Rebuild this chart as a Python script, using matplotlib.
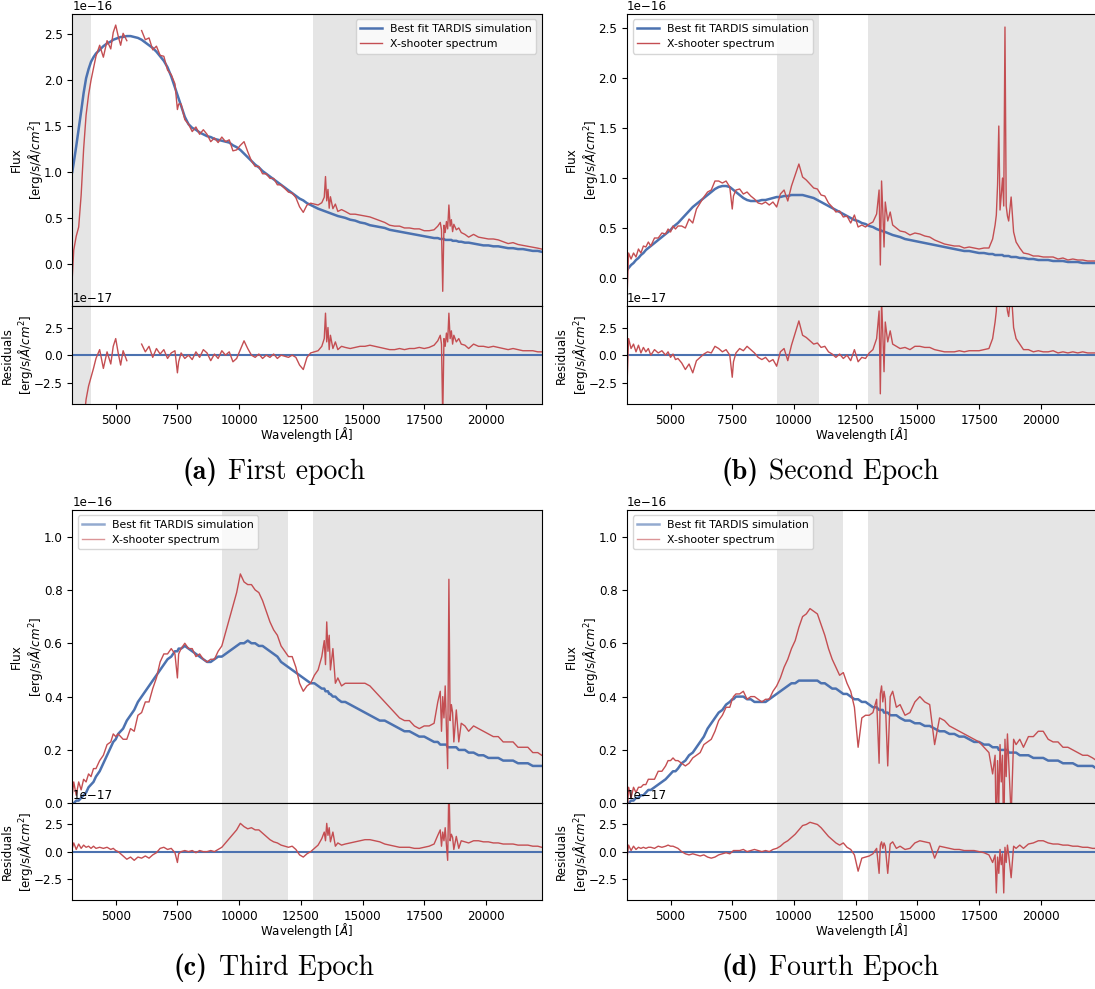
import numpy as np
import matplotlib.pyplot as plt
from matplotlib.offsetbox import TextArea, HPacker, AnnotationBbox

plt.rcParams["font.size"] = 8.6

BLUE = "#4c72b0"
RED = "#c44e52"

# common wavelength grid [Angstrom]
wavelength = [
    3240, 3300, 3400, 3500, 3600, 3700, 3800, 3900, 4000, 4100,
    4200, 4350, 4500, 4650, 4800, 4900, 5000, 5100, 5200, 5300,
    5450, 5600, 5750, 5900, 6050, 6200, 6350, 6500, 6650, 6800,
    6950, 7100, 7250, 7400, 7500, 7550, 7650, 7800, 7950, 8100,
    8250, 8400, 8550, 8700, 8850, 9000, 9150, 9300, 9450, 9600,
    9750, 9900, 10050, 10200, 10350, 10500, 10650, 10800, 10950, 11100,
    11250, 11400, 11550, 11700, 11850, 12000, 12150, 12300, 12450, 12600,
    12750, 12900, 13050, 13200, 13350, 13450, 13500, 13550, 13600, 13650,
    13700, 13800, 13900, 14000, 14150, 14300, 14500, 14700, 14900, 15100,
    15300, 15500, 15700, 15900, 16100, 16300, 16500, 16700, 16900, 17100,
    17300, 17500, 17700, 17900, 18050, 18150, 18200, 18250, 18300, 18350,
    18400, 18450, 18500, 18550, 18600, 18650, 18700, 18800, 18900, 19000,
    19150, 19300, 19500, 19700, 19900, 20100, 20300, 20500, 20700, 20900,
    21100, 21300, 21500, 21700, 21900, 22100, 22260,
]

# TARDIS best-fit flux [1e-16 erg/s/A/cm^2] and residuals obs - model [1e-17]
model_a = [
    1.00, 1.10, 1.28, 1.47, 1.66, 1.86, 2.02, 2.12, 2.20, 2.25,
    2.29, 2.33, 2.37, 2.40, 2.42, 2.44, 2.45, 2.46, 2.47, 2.47,
    2.48, 2.48, 2.47, 2.46, 2.44, 2.41, 2.38, 2.35, 2.31, 2.26,
    2.21, 2.14, 2.04, 1.92, 1.84, 1.80, 1.72, 1.60, 1.52, 1.48,
    1.46, 1.43, 1.41, 1.39, 1.38, 1.36, 1.35, 1.34, 1.33, 1.32,
    1.29, 1.27, 1.24, 1.20, 1.16, 1.12, 1.08, 1.05, 1.01, 0.98,
    0.95, 0.92, 0.89, 0.86, 0.83, 0.80, 0.77, 0.74, 0.71, 0.69,
    0.66, 0.64, 0.62, 0.60, 0.585, 0.575, 0.57, 0.565, 0.56, 0.555,
    0.55, 0.54, 0.53, 0.52, 0.51, 0.50, 0.48, 0.47, 0.45, 0.44,
    0.42, 0.41, 0.40, 0.39, 0.37, 0.36, 0.35, 0.34, 0.33, 0.32,
    0.31, 0.30, 0.29, 0.28, 0.28, 0.27, 0.27, 0.27, 0.27, 0.26,
    0.26, 0.26, 0.26, 0.26, 0.26, 0.25, 0.25, 0.25, 0.24, 0.24,
    0.23, 0.23, 0.22, 0.21, 0.20, 0.20, 0.19, 0.19, 0.18, 0.17,
    0.17, 0.16, 0.16, 0.15, 0.14, 0.14, 0.13,
]
resid_a = [
    -11.5, -9.5, -9.8, -10.7, -9.1, -6.1, -4.0, -2.8, -2.0, -1.2,
    -0.3, 0.5, -1.2, 0.3, -0.8, 0.8, 1.5, 0.2, -0.9, 0.4,
    -0.5, np.nan, np.nan, np.nan, 1.0, 0.3, 0.8, -0.2, 0.6, 0.1,
    0.5, -0.3, 0.2, 0.4, -1.6, -0.6, 0.2, -0.3, 0.0, -0.4,
    0.3, -0.2, 0.5, 0.2, -0.5, 0.1, -0.3, 0.4, 0.0, 0.3,
    -0.6, -0.3, 0.5, 1.3, 0.6, 0.0, -0.2, 0.1, -0.3, 0.0,
    -0.2, 0.1, -0.3, 0.0, -0.1, -0.2, 0.0, -0.2, -0.9, -1.3,
    -0.2, 0.2, 0.3, 0.4, 0.8, 1.5, 3.8, 1.2, 2.5, 0.5,
    1.8, 0.6, 1.2, 0.5, 0.8, 0.7, 0.6, 0.7, 0.8, 0.8,
    0.9, 0.8, 0.7, 0.6, 0.5, 0.5, 0.6, 0.5, 0.6, 0.6,
    0.7, 0.6, 0.7, 0.9, 1.3, 1.8, 1.0, -5.7, 1.5, 0.8,
    2.0, 1.2, 3.8, 1.5, 2.2, 1.0, 1.8, 1.2, 1.5, 1.0,
    0.9, 0.6, 1.0, 0.8, 0.8, 0.7, 0.8, 0.7, 0.6, 0.5,
    0.6, 0.5, 0.4, 0.4, 0.4, 0.3, 0.3,
]

model_b = [
    0.08, 0.10, 0.13, 0.15, 0.18, 0.20, 0.23, 0.25, 0.28, 0.30,
    0.32, 0.35, 0.38, 0.41, 0.44, 0.46, 0.48, 0.51, 0.53, 0.55,
    0.59, 0.63, 0.67, 0.71, 0.74, 0.77, 0.80, 0.83, 0.86, 0.89,
    0.91, 0.92, 0.92, 0.91, 0.89, 0.88, 0.86, 0.83, 0.80, 0.78,
    0.77, 0.77, 0.77, 0.78, 0.78, 0.79, 0.80, 0.81, 0.81, 0.82,
    0.82, 0.83, 0.83, 0.83, 0.83, 0.82, 0.81, 0.80, 0.78, 0.76,
    0.74, 0.72, 0.70, 0.68, 0.66, 0.64, 0.62, 0.60, 0.58, 0.57,
    0.55, 0.54, 0.52, 0.51, 0.49, 0.48, 0.48, 0.47, 0.47, 0.46,
    0.46, 0.45, 0.44, 0.43, 0.42, 0.41, 0.39, 0.38, 0.37, 0.36,
    0.35, 0.34, 0.33, 0.32, 0.31, 0.30, 0.29, 0.28, 0.27, 0.27,
    0.26, 0.25, 0.25, 0.24, 0.24, 0.23, 0.23, 0.23, 0.23, 0.23,
    0.23, 0.23, 0.22, 0.22, 0.22, 0.22, 0.22, 0.21, 0.21, 0.21,
    0.20, 0.20, 0.19, 0.19, 0.18, 0.18, 0.18, 0.17, 0.17, 0.17,
    0.16, 0.16, 0.16, 0.15, 0.15, 0.15, 0.15,
]
resid_b = [
    -2.5, 1.5, 0.6, 1.0, 0.3, 0.9, 0.2, 0.7, 0.3, 0.6,
    0.0, 0.5, 0.2, 0.4, 0.0, 0.3, -0.2, 0.1, -0.4, -0.3,
    -0.7, -1.3, -0.8, -1.6, -0.5, -0.2, 0.1, 0.3, 0.2, 0.8,
    0.6, 0.3, 0.5, 0.0, -2.0, -0.6, 0.2, 0.6, 0.4, 0.8,
    0.5, 0.2, -0.2, -0.4, -0.2, -0.6, -0.4, -1.0, 0.3, 0.6,
    -0.5, 0.9, 2.0, 3.1, 1.8, 1.6, 1.3, 1.0, 1.1, 0.7,
    0.8, 0.3, 0.1, -0.2, 0.1, -0.3, 0.0, -0.5, 0.5, -0.6,
    -0.2, -0.3, 0.2, 0.5, 1.5, 4.0, -3.5, 5.0, 2.0, -1.5,
    3.0, 1.2, 2.2, 1.0, 0.8, 0.6, 0.7, 0.5, 0.8, 0.8,
    0.7, 0.7, 0.5, 0.4, 0.3, 0.3, 0.3, 0.4, 0.3, 0.4,
    0.4, 0.4, 0.5, 0.6, 1.5, 3.0, 4.0, 7.0, 12.9, 4.5,
    6.0, 7.7, 5.0, 22.9, 5.0, 4.0, 3.5, 6.0, 2.5, 1.5,
    1.0, 0.5, 0.5, 0.3, 0.4, 0.3, 0.3, 0.4, 0.2, 0.3,
    0.2, 0.3, 0.2, 0.3, 0.2, 0.2, 0.2,
]

model_c = [
    0.00, 0.00, 0.01, 0.01, 0.02, 0.03, 0.04, 0.06, 0.07, 0.08,
    0.10, 0.12, 0.15, 0.18, 0.21, 0.23, 0.24, 0.26, 0.27, 0.28,
    0.31, 0.33, 0.35, 0.38, 0.40, 0.42, 0.44, 0.46, 0.48, 0.50,
    0.52, 0.54, 0.55, 0.57, 0.57, 0.58, 0.58, 0.59, 0.58, 0.57,
    0.56, 0.55, 0.54, 0.53, 0.53, 0.54, 0.55, 0.55, 0.56, 0.57,
    0.58, 0.59, 0.60, 0.60, 0.61, 0.60, 0.60, 0.59, 0.59, 0.58,
    0.57, 0.56, 0.55, 0.53, 0.52, 0.51, 0.50, 0.49, 0.48, 0.47,
    0.46, 0.45, 0.45, 0.44, 0.43, 0.43, 0.42, 0.42, 0.42, 0.41,
    0.41, 0.40, 0.40, 0.39, 0.38, 0.38, 0.37, 0.36, 0.35, 0.34,
    0.33, 0.32, 0.31, 0.31, 0.30, 0.29, 0.28, 0.27, 0.27, 0.26,
    0.25, 0.25, 0.24, 0.23, 0.23, 0.22, 0.22, 0.22, 0.22, 0.22,
    0.22, 0.21, 0.21, 0.21, 0.21, 0.21, 0.21, 0.21, 0.20, 0.20,
    0.20, 0.19, 0.19, 0.18, 0.18, 0.17, 0.17, 0.17, 0.16, 0.16,
    0.16, 0.15, 0.15, 0.15, 0.14, 0.14, 0.14,
]
resid_c = [
    0.3, 0.8, 0.2, 0.7, 0.3, 0.6, 0.4, 0.5, 0.3, 0.5,
    0.3, 0.4, 0.3, 0.4, 0.2, 0.3, 0.1, 0.0, -0.2, -0.4,
    -0.7, -0.5, -0.8, -0.5, -0.6, -0.4, -0.6, -0.3, -0.1, 0.3,
    0.4, 0.2, 0.3, -0.1, -1.0, -0.2, 0.0, 0.1, 0.0, 0.1,
    -0.1, 0.1, 0.0, 0.0, 0.1, 0.0, 0.2, 0.4, 0.8, 1.2,
    1.6, 2.0, 2.6, 2.3, 2.1, 2.2, 2.0, 2.0, 1.7, 1.4,
    1.1, 0.9, 0.8, 0.6, 0.5, 0.4, 0.5, 0.2, -0.3, -0.5,
    -0.2, 0.0, 0.3, 0.6, 1.2, 1.8, 1.0, 2.6, 1.5, 2.2,
    0.9, 1.8, 0.5, 0.8, 0.6, 0.7, 0.8, 0.9, 1.0, 1.1,
    1.1, 1.0, 0.9, 0.7, 0.6, 0.5, 0.4, 0.4, 0.4, 0.3,
    0.3, 0.4, 0.5, 0.7, 1.5, 2.0, 0.5, 1.8, 1.0, 2.2,
    0.6, -0.8, 6.3, 1.0, 1.6, 1.3, 0.2, 1.4, 0.3, 1.0,
    0.9, 0.8, 1.0, 1.0, 0.9, 0.9, 0.8, 0.8, 0.7, 0.7,
    0.7, 0.6, 0.6, 0.6, 0.5, 0.5, 0.4,
]

model_d = [
    0.00, 0.00, 0.01, 0.01, 0.02, 0.02, 0.03, 0.03, 0.04, 0.05,
    0.05, 0.06, 0.07, 0.08, 0.09, 0.10, 0.11, 0.12, 0.12, 0.13,
    0.15, 0.16, 0.18, 0.19, 0.21, 0.23, 0.25, 0.28, 0.30, 0.32,
    0.34, 0.35, 0.37, 0.38, 0.39, 0.39, 0.40, 0.40, 0.40, 0.39,
    0.39, 0.38, 0.38, 0.38, 0.38, 0.39, 0.40, 0.41, 0.42, 0.43,
    0.44, 0.45, 0.45, 0.46, 0.46, 0.46, 0.46, 0.46, 0.46, 0.45,
    0.45, 0.44, 0.43, 0.43, 0.42, 0.41, 0.41, 0.40, 0.39, 0.39,
    0.38, 0.38, 0.37, 0.36, 0.36, 0.35, 0.35, 0.35, 0.35, 0.34,
    0.34, 0.34, 0.33, 0.33, 0.33, 0.32, 0.31, 0.31, 0.30, 0.30,
    0.29, 0.29, 0.28, 0.27, 0.27, 0.26, 0.26, 0.25, 0.25, 0.24,
    0.23, 0.23, 0.22, 0.22, 0.21, 0.21, 0.21, 0.21, 0.20, 0.20,
    0.20, 0.20, 0.20, 0.20, 0.20, 0.20, 0.19, 0.19, 0.19, 0.19,
    0.18, 0.18, 0.18, 0.17, 0.17, 0.17, 0.16, 0.16, 0.16, 0.15,
    0.15, 0.15, 0.14, 0.14, 0.14, 0.14, 0.13,
]
resid_d = [
    -0.5, 0.6, 0.1, 0.5, 0.2, 0.4, 0.3, 0.4, 0.3, 0.4,
    0.4, 0.3, 0.5, 0.4, 0.5, 0.6, 0.5, 0.5, 0.4, 0.3,
    0.0, -0.2, -0.3, -0.2, -0.3, -0.4, -0.3, -0.5, -0.6, -0.5,
    -0.3, -0.2, -0.1, -0.2, 0.0, 0.1, 0.1, 0.1, 0.2, 0.0,
    0.1, 0.2, 0.1, 0.0, 0.1, 0.0, 0.2, 0.3, 0.5, 0.8,
    1.0, 1.3, 1.6, 2.0, 2.4, 2.5, 2.7, 2.6, 2.5, 2.2,
    1.8, 1.4, 1.1, 0.8, 0.6, 0.8, 0.4, 0.2, -0.3, -1.8,
    -0.6, -0.5, -0.4, -0.2, 0.3, -2.0, 0.6, 0.9, 0.3, 0.8,
    0.5, -2.0, 0.7, 0.9, 0.3, 0.5, 0.2, 0.3, 0.8, 1.0,
    0.9, 0.8, -0.6, 0.5, 0.4, 0.3, 0.2, 0.2, 0.1, 0.1,
    0.1, 0.0, -0.1, -0.3, -1.0, -0.3, -3.8, -0.5, -2.0, 0.2,
    -1.2, -0.2, -3.8, 0.4, -1.0, 0.6, -0.3, -2.4, 0.5, 0.3,
    0.6, 0.3, 0.7, 0.8, 1.0, 1.0, 0.8, 0.7, 0.7, 0.6,
    0.6, 0.5, 0.5, 0.4, 0.4, 0.3, 0.3,
]

captions = ["First epoch", "Second Epoch", "Third Epoch", "Fourth Epoch"]
letters = ["a", "b", "c", "d"]
models = [model_a, model_b, model_c, model_d]
resids = [resid_a, resid_b, resid_c, resid_d]
flux_ylims = [(-0.46, 2.72), (-0.28, 2.64), (0.0, 1.1), (0.0, 1.1)]
flux_yticks = [np.arange(0, 2.51, 0.5), np.arange(0, 2.51, 0.5),
               np.arange(0, 1.01, 0.2), np.arange(0, 1.01, 0.2)]
# masked wavelength ranges shown as grey bands
masked = [[(3240, 4000), (13000, 22260)],
          [(9300, 11000), (13000, 22260)],
          [(9300, 12000), (13000, 22260)],
          [(9300, 12000), (13000, 22260)]]
legend_locs = ["upper right", "upper left", "upper left", "upper left"]

wl = np.array(wavelength, dtype=float)
xlim = (3240, 22260)

fig = plt.figure(figsize=(10.95, 9.89), dpi=100)

lefts = [0.0660, 0.5727]
width = 0.4287
rows = [(0.6906, 0.2952, 0.5912, 0.0994), (0.1878, 0.2966, 0.0900, 0.0978)]
cap_x = [0.250, 0.758]
cap_y = [0.5228, 0.0212]


def add_caption(x, y, letter, text):
    bold = TextArea("(%s)" % letter, textprops=dict(family="cmb10", size=20))
    plain = TextArea(text, textprops=dict(family="cmr10", size=20))
    box = HPacker(children=[bold, plain], align="baseline", pad=0, sep=8)
    ab = AnnotationBbox(box, (x, y), xycoords="figure fraction",
                        frameon=False, box_alignment=(0.5, 0.5))
    fig.add_artist(ab)


for i in range(4):
    r, c = divmod(i, 2)
    fb, fh, rb, rh = rows[r]
    ax = fig.add_axes([lefts[c], fb, width, fh])
    axr = fig.add_axes([lefts[c], rb, width, rh], sharex=ax)

    model = np.array(models[i]) * 1e-16
    resid = np.array(resids[i]) * 1e-17
    obs = model + resid

    for lo, hi in masked[i]:
        ax.axvspan(lo, hi, color="grey", alpha=0.2, lw=0)
        axr.axvspan(lo, hi, color="grey", alpha=0.2, lw=0)

    ax.plot(wl, model, color=BLUE, lw=1.8, label="Best fit TARDIS simulation")
    ax.plot(wl, obs, color=RED, lw=1.0, label="X-shooter spectrum")
    leg = ax.legend(loc=legend_locs[i], fontsize=7.8)
    if r == 1:
        for line in leg.get_lines():
            line.set_alpha(0.6)

    ax.set_xlim(*xlim)
    lo, hi = flux_ylims[i]
    ax.set_ylim(lo * 1e-16, hi * 1e-16)
    ax.set_yticks(flux_yticks[i] * 1e-16)
    ax.tick_params(labelbottom=False)
    ax.set_ylabel("Flux\n[erg/s/$\\AA/cm^2$]")
    ax.yaxis.set_label_coords(-0.058, 0.5)

    axr.plot(wl, np.zeros_like(wl), color=BLUE, lw=1.5)
    axr.plot(wl, resid, color=RED, lw=1.0)
    axr.set_ylim(-4.45e-17, 4.45e-17)
    axr.set_yticks([-2.5e-17, 0, 2.5e-17])
    axr.set_xticks([5000, 7500, 10000, 12500, 15000, 17500, 20000])
    axr.set_ylabel("Residuals\n[erg/s/$\\AA/cm^2$]")
    axr.yaxis.set_label_coords(-0.079, 0.5)
    axr.set_xlabel("Wavelength [$\\AA$]", labelpad=-1.5)

    add_caption(cap_x[c], cap_y[r], letters[i], captions[i])

fig.savefig("out.png", dpi=100)
